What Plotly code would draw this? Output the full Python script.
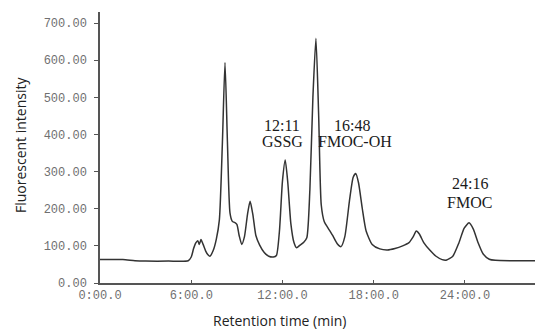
import plotly.graph_objects as go

# Retention time (min) and fluorescent intensity
time_min = [0.0, 1.5, 2.3, 3.0, 4.5, 5.8, 6.0, 6.15, 6.3, 6.43, 6.53, 6.64, 6.78, 6.95, 7.1, 7.23,
            7.45, 7.65, 7.85, 8.05, 8.22, 8.38, 8.55, 8.7, 8.85, 9.0, 9.15, 9.32,
            9.5, 9.7, 9.87, 10.05, 10.25, 10.5, 10.8, 11.1, 11.4, 11.6,
            11.8, 12.0, 12.18, 12.35, 12.55, 12.75, 12.93, 13.15, 13.4, 13.6,
            13.8, 14.0, 14.2, 14.38, 14.55, 14.75, 15.0, 15.3, 15.6, 15.85,
            16.1, 16.4, 16.65, 16.82, 17.0, 17.25, 17.5, 17.9, 18.4, 18.9, 19.4, 19.9,
            20.3, 20.6, 20.8, 21.0, 21.3, 21.7, 22.1, 22.5, 22.8,
            23.2, 23.6, 23.95, 24.27, 24.55, 24.85, 25.2, 25.6, 26.0, 27.0, 28.0, 29.1]
intensity = [63, 63, 60, 59, 59, 60, 70, 92, 108, 114, 104, 117, 104, 86, 76, 72,
             88, 118, 170, 380, 594, 380, 188, 166, 163, 158, 128, 104,
             125, 185, 220, 185, 128, 102, 82, 72, 70, 74,
             140, 275, 331, 270, 160, 110, 95, 102, 110, 122,
             250, 500, 659, 450, 210, 165, 148, 128, 106, 98,
             125, 220, 285, 295, 270, 200, 140, 104, 92, 89, 93, 100,
             108, 125, 140, 132, 108, 88, 72, 63, 62,
             72, 108, 148, 162, 145, 110, 78, 64, 61, 60, 60, 60]

y_ticks = [0, 100, 200, 300, 400, 500, 600, 700]
y_tick_labels = ["0.00", "100.00", "200.00", "300.00", "400.00", "500.00", "600.00", "700.00"]
x_ticks = [0, 6, 12, 18, 24]
x_tick_labels = ["0:00.0", "6:00.0", "12:00.0", "18:00.0", "24:00.0"]

peak_time_labels = ["12:11", "16:48", "24:16"]
peak_time_x = [12.0, 16.6, 24.3]
peak_time_y = [425, 425, 269]
peak_names = ["GSSG", "FMOC-OH", "FMOC"]
peak_name_x = [12.0, 16.8, 24.3]
peak_name_y = [380, 380, 217]

fig = go.Figure()
fig.add_trace(go.Scatter(
    x=time_min, y=intensity, mode="lines",
    line=dict(color="#333333", width=1.5, shape="spline", smoothing=0.6),
    showlegend=False, hoverinfo="skip"))

serif = dict(family="Liberation Serif, DejaVu Serif, serif", size=16, color="#1a1a1a")
for tl, tx, ty in zip(peak_time_labels, peak_time_x, peak_time_y):
    fig.add_annotation(x=tx, y=ty, text=tl, showarrow=False, xanchor="center", yanchor="middle", font=serif)
for nm, nx, ny in zip(peak_names, peak_name_x, peak_name_y):
    fig.add_annotation(x=nx, y=ny, text=nm, showarrow=False, xanchor="center", yanchor="middle", font=serif)

sans = dict(family="Open Sans, sans-serif", size=14, color="#222222")
fig.add_annotation(xref="paper", yref="paper", x=0, y=0.509, xshift=-80, text="Fluorescent intensity",
                   textangle=-90, showarrow=False, xanchor="center", yanchor="middle", font=sans)
fig.add_annotation(xref="paper", yref="paper", x=0.408, y=0, yshift=-37, text="Retention time (min)",
                   showarrow=False, xanchor="center", yanchor="middle", font=sans)

mono = dict(family="Liberation Mono, Courier New, monospace", size=12, color="#707070")

fig.update_layout(
    width=535, height=323,
    margin=dict(l=92, r=2, t=4, b=48, autoexpand=False),
    paper_bgcolor="white", plot_bgcolor="white",
    xaxis=dict(range=[0, 29.0], tickvals=x_ticks, ticktext=x_tick_labels, automargin=False,
               showgrid=False, zeroline=False, showline=True, linecolor="#555555", linewidth=1.5,
               ticks="inside", ticklen=3, tickcolor="#555555", tickfont=mono),
    yaxis=dict(range=[0, 730], tickvals=y_ticks, ticktext=y_tick_labels, automargin=False,
               showgrid=False, zeroline=False, showline=True, linecolor="#555555", linewidth=1.5,
               ticks="outside", ticklen=4, tickcolor="#555555", tickfont=mono,
               ticklabelstandoff=5),
)

fig.write_html("out.html")
